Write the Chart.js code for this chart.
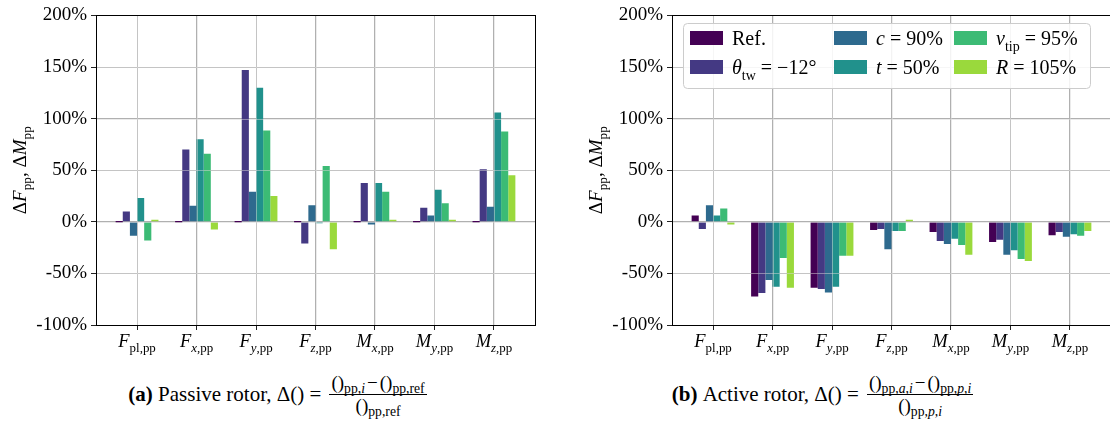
<!DOCTYPE html>
<html>
<head>
<meta charset="utf-8">
<script src="https://cdn.jsdelivr.net/npm/chart.js"></script>
<style>
  body { margin: 0; width: 1110px; height: 425px; overflow: hidden; background: #fff; position: relative; font-family: "Liberation Serif", serif; }
  canvas { position: absolute; top: 0; }
  #passive { left: 0; }
  #active { left: 576px; }
  .caption { position: absolute; top: 373px; width: 555px; display: flex; justify-content: center; align-items: center; font-size: 21px; white-space: nowrap; color: #000; }
  .frac { display: inline-flex; flex-direction: column; align-items: center; font-size: 19px; margin-left: 8px; line-height: 20px; }
  .frac .num { border-bottom: 1px solid #000; padding: 0 2px 1px; }
  .frac .den { padding-top: 1px; }
  .minus { margin: 0 2px; }
  sub { font-size: 72%; vertical-align: -0.3em; line-height: 0; }
</style>
</head>
<body>
<canvas id="passive" width="540" height="360"></canvas>
<canvas id="active" width="540" height="360"></canvas>
<div class="caption" style="left:0"><b>(a)</b>&nbsp;Passive rotor, Δ() =<span class="frac"><span class="num">()<sub>pp,<i>i</i></sub><span class="minus">−</span>()<sub>pp,ref</sub></span><span class="den">()<sub>pp,ref</sub></span></span></div>
<div class="caption" style="left:545px"><b>(b)</b>&nbsp;Active rotor, Δ() =<span class="frac"><span class="num">()<sub>pp,<i>a</i>,<i>i</i></sub><span class="minus">−</span>()<sub>pp,<i>p</i>,<i>i</i></sub></span><span class="den">()<sub>pp,<i>p</i>,<i>i</i></sub></span></span></div>
<script>
// categories: symbol + subscript
const categorySymbols = ['F', 'F', 'F', 'F', 'M', 'M', 'M'];
const categorySubs = ['pl', 'x', 'y', 'z', 'x', 'y', 'z'];

const seriesNames = ['Ref.', 'θtw = −12°', 'c = 90%', 't = 50%', 'vtip = 95%', 'R = 105%'];
const seriesColors = ['#440154', '#443983', '#2e6a8e', '#21918c', '#3cbb75', '#9ad93c'];
const yTicks = [-100, -50, 0, 50, 100, 150, 200];

// passive rotor, relative change to reference [%]
const passiveRef = [0, 0, 0, 0, 0, 0, 0];
const passiveTwist = [10, 70, 147, -21, 37.5, 13.5, 51];
const passiveChord = [-13.5, 15.5, 29, 16, -2.5, 6, 14.5];
const passiveThick = [23, 80, 130, -1.5, 37.5, 31, 106];
const passiveTip = [-18, 66, 88.5, 54, 29, 18, 87.5];
const passiveRadius = [2, -7.5, 25, -26.5, 2, 2, 45];

// active vs passive rotor [%]
const activeRef = [6, -72.5, -64, -8, -10, -19.5, -13];
const activeTwist = [-7, -69, -65, -7, -18.5, -17.5, -10];
const activeChord = [16, -56.5, -68.5, -26.5, -21.5, -32, -14.5];
const activeThick = [6, -63, -63, -9, -16.5, -27.5, -12];
const activeTip = [13, -35, -33, -9, -22.5, -36, -13.5];
const activeRadius = [-2.5, -64, -33, 2, -32, -38, -9];

const FONT = '"Liberation Serif", serif';

// legend entries with math formatting
const legendParts = [
  [{ t: 'Ref.' }],
  [{ t: 'θ', it: 1 }, { t: 'tw', sub: 1 }, { t: ' = −12°' }],
  [{ t: 'c', it: 1 }, { t: ' = 90%' }],
  [{ t: 't', it: 1 }, { t: ' = 50%' }],
  [{ t: 'v', it: 1 }, { t: 'tip', sub: 1 }, { t: ' = 95%' }],
  [{ t: 'R', it: 1 }, { t: ' = 105%' }]
];

function drawRich(ctx, parts, x, y, size, align) {
  const segs = parts.map(p => {
    const s = p.sub ? size * 0.7 : size;
    const font = (p.it ? 'italic ' : '') + s + 'px ' + FONT;
    ctx.font = font;
    return { t: p.t, font, w: ctx.measureText(p.t).width, dy: p.sub ? size * 0.28 : 0 };
  });
  const total = segs.reduce((a, s) => a + s.w, 0);
  let cx = align === 'center' ? x - total / 2 : x;
  ctx.textAlign = 'left';
  ctx.textBaseline = 'alphabetic';
  segs.forEach(s => {
    ctx.font = s.font;
    ctx.fillText(s.t, cx, y + s.dy);
    cx += s.w;
  });
  return total;
}

const decorations = {
  id: 'decorations',
  afterDatasetsDraw(chart, args, opts) {
    const ctx = chart.ctx;
    const area = chart.chartArea;
    const xs = chart.scales.x, ys = chart.scales.y;
    ctx.save();
    // faint grid over the bars
    ctx.strokeStyle = 'rgba(215,215,215,0.5)';
    ctx.lineWidth = 1;
    ctx.beginPath();
    categorySubs.forEach((_, i) => {
      const px = Math.round(xs.getPixelForValue(i)) + 0.5;
      ctx.moveTo(px, area.top); ctx.lineTo(px, area.bottom);
    });
    yTicks.forEach(v => {
      const py = Math.round(ys.getPixelForValue(v)) + 0.5;
      ctx.moveTo(area.left, py); ctx.lineTo(area.right, py);
    });
    ctx.stroke();
    // frame
    ctx.strokeStyle = '#000';
    ctx.strokeRect(Math.round(area.left) + 0.5, Math.round(area.top) + 0.5,
      Math.round(area.right - area.left), Math.round(area.bottom - area.top));
    ctx.fillStyle = '#000';
    // category labels
    categorySubs.forEach((sub, i) => {
      const px = xs.getPixelForValue(i);
      const parts = sub === 'pl'
        ? [{ t: categorySymbols[i], it: 1 }, { t: 'pl,pp', sub: 1 }]
        : [{ t: categorySymbols[i], it: 1 }, { t: sub, it: 1, sub: 1 }, { t: ',pp', sub: 1 }];
      drawRich(ctx, parts, px, 347, 18.5, 'center');
    });
    // axis title
    ctx.save();
    ctx.translate(26, (area.top + area.bottom) / 2);
    ctx.rotate(-Math.PI / 2);
    drawRich(ctx, [{ t: 'Δ' }, { t: 'F', it: 1 }, { t: 'pp', sub: 1 }, { t: ', Δ' }, { t: 'M', it: 1 }, { t: 'pp', sub: 1 }], 0, 0, 19, 'center');
    ctx.restore();
    // legend
    if (opts.legend) {
      const bx = 107, by = 23, bw = 407, bh = 65;
      ctx.fillStyle = 'rgba(255,255,255,0.85)';
      ctx.strokeStyle = '#cccccc';
      ctx.beginPath();
      ctx.roundRect(bx + 0.5, by + 0.5, bw, bh, 4);
      ctx.fill();
      ctx.stroke();
      const colX = [114, 258, 378];
      const rowY = [31, 60];
      seriesNames.forEach((name, k) => {
        const col = Math.floor(k / 2), row = k % 2;
        ctx.fillStyle = seriesColors[k];
        ctx.fillRect(colX[col], rowY[row], 33, 14);
        ctx.fillStyle = '#000';
        drawRich(ctx, legendParts[k], colX[col] + 42, rowY[row] + 14, 20, 'left');
      });
    }
    ctx.restore();
  }
};

function makeChart(id, series, withLegend) {
  const datasets = series.map((vals, k) => ({
    label: seriesNames[k],
    data: vals.map((v, i) => ({ x: i, y: v })),
    backgroundColor: seriesColors[k],
    categoryPercentage: 0.72,
    barPercentage: 1.0,
    minBarLength: 1.5
  }));
  const gridStyle = { color: '#b0b0b0', lineWidth: 1, tickLength: 5, tickColor: '#222', offset: false };
  return new Chart(document.getElementById(id), {
    type: 'bar',
    data: { datasets },
    plugins: [decorations],
    options: {
      responsive: false,
      animation: false,
      layout: { padding: { top: 13, right: 5, left: 0, bottom: 0 } },
      plugins: { legend: { display: false }, tooltip: { enabled: false }, decorations: { legend: withLegend } },
      scales: {
        x: {
          type: 'linear',
          offset: false,
          min: -0.69,
          max: 6.69,
          afterBuildTicks: s => { s.ticks = categorySubs.map((_, i) => ({ value: i })); },
          afterFit: s => { s.height = 35; },
          ticks: { display: false },
          grid: gridStyle,
          border: { color: '#000', width: 1 }
        },
        y: {
          min: -100,
          max: 200,
          afterBuildTicks: s => { s.ticks = yTicks.map(v => ({ value: v })); },
          afterFit: s => { s.width = 96; },
          ticks: { callback: v => v + '%', color: '#000', padding: 4, font: { family: FONT, size: 19 } },
          grid: gridStyle,
          border: { color: '#000', width: 1 }
        }
      }
    }
  });
}

makeChart('passive', [passiveRef, passiveTwist, passiveChord, passiveThick, passiveTip, passiveRadius], false);
makeChart('active', [activeRef, activeTwist, activeChord, activeThick, activeTip, activeRadius], true);
</script>
</body>
</html>
